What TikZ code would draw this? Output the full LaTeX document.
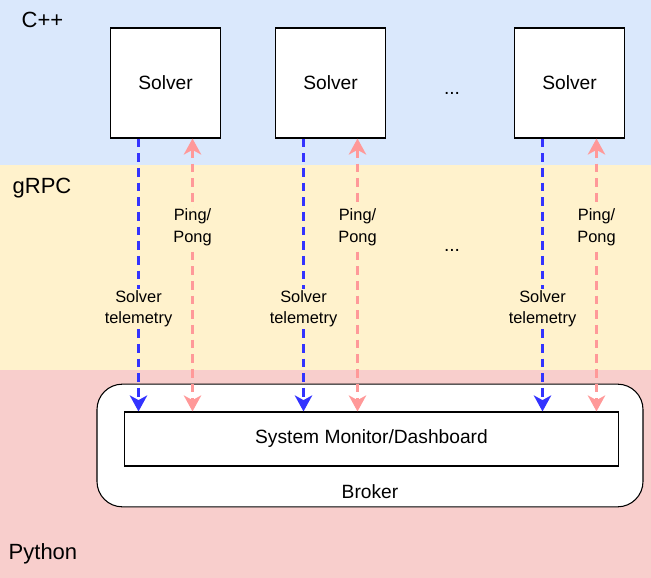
\documentclass[tikz,border=0pt]{standalone}
\usepackage{fontspec}
\setmainfont{Liberation Sans}
\usepackage{tikz}
\usetikzlibrary{positioning,calc,arrows.meta}

\definecolor{cppband}{HTML}{DAE8FC}
\definecolor{rpcband}{HTML}{FFF2CC}
\definecolor{pyband}{HTML}{F8CECC}
\definecolor{teleblue}{HTML}{3333FF}
\definecolor{pingpink}{HTML}{FF9999}

\begin{document}
\begin{tikzpicture}[
	x=0.75pt, y=-0.75pt,
	>={Stealth[length=12pt,width=13pt,inset=3.5pt]},
	band/.style={font=\fontsize{16.5}{19}\selectfont, anchor=west},
	solver/.style={draw, thick, fill=white, minimum width=83pt, minimum height=82.5pt, font=\fontsize{14.4}{17}\selectfont},
	tele/.style={->, line width=2.1pt, dash pattern=on 6.5pt off 4.5pt, teleblue},
	ping/.style={<->, line width=2.1pt, dash pattern=on 6.5pt off 4.5pt, pingpink},
	lbl/.style={font=\fontsize{12.3}{16}\selectfont, align=center, inner sep=1pt, text=black, fill=rpcband}]
	\useasboundingbox (0,0) rectangle (651,578);
	% language layers
	\fill[cppband] (0,0) rectangle (651,165);
	\fill[rpcband] (0,165) rectangle (651,370);
	\fill[pyband] (0,370) rectangle (651,578);
	\node[band] (cpp) at (17,20) {C++};
	\node[band] (grpc) at (8,188) {gRPC};
	\node[band] (py) at (4,554) {Python};
	% broker side
	\node[draw, thick, fill=white, rounded corners=19pt, minimum width=409.5pt, minimum height=92pt] (broker) at (370,445.5) {};
	\node[font=\fontsize{14.4}{17}\selectfont] (brokerlbl) at (370,492) {Broker};
	\node[draw, thick, fill=white, minimum width=370pt, minimum height=40.5pt, font=\fontsize{14.4}{17}\selectfont] (mon) at (371.5,439) {System Monitor/Dashboard};
	% solvers
	\node[solver] (s1) at (165.5,83) {Solver};
	\node[solver] (s2) at (330.5,83) {Solver};
	\node[solver] (s3) at (569.5,83) {Solver};
	\node[font=\fontsize{14.4}{17}\selectfont] (dots1) at (452,93) {...};
	\node[font=\fontsize{14.4}{17}\selectfont] (dots2) at (452,250) {...};
	\foreach \s in {s1,s2,s3}{
		\coordinate (\s-t) at ($(\s.south)+(-27,0)$);
		\coordinate (\s-p) at ($(\s.south)+(27,0)$);
		\draw[tele] (\s-t) -- (\s-t |- mon.north)
			node[lbl, pos=0.624] {Solver\\telemetry};
		\draw[ping] (\s-p) -- (\s-p |- mon.north)
			node[lbl, pos=0.325] {Ping/\\Pong};
	}
\end{tikzpicture}
\end{document}
